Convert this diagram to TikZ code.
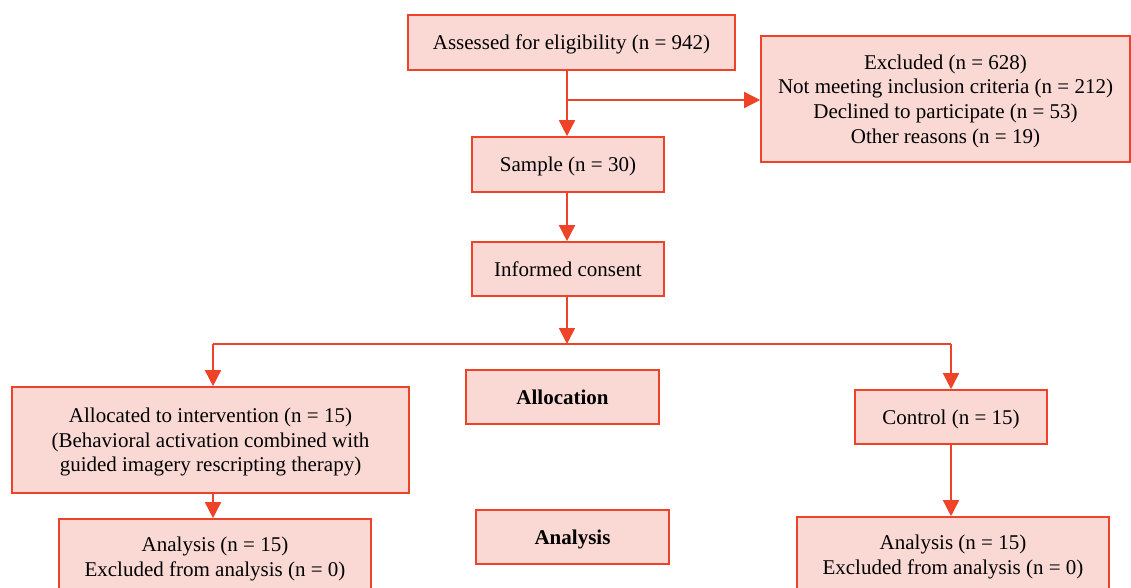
\documentclass[tikz,border=0pt]{standalone}
\usepackage{fontspec}
\setmainfont{Liberation Serif}
\usetikzlibrary{arrows.meta}

\definecolor{boxline}{HTML}{EE4329}
\definecolor{boxfill}{HTML}{FAD9D5}

\tikzset{
  flowbox/.style={draw=boxline, fill=boxfill, line width=1.6pt, align=center,
    inner sep=0pt, font=\fontsize{21}{24.7}\selectfont, text depth=-1.5pt},
  flowline/.style={draw=boxline, line width=1.6pt},
  flowarrow/.style={flowline, -{Triangle[length=16pt,width=16pt]}}
}

\begin{document}
\begin{tikzpicture}[x=1pt, y=-1pt]
	\useasboundingbox (0,0) rectangle (1131,588);
	\clip (0,0) rectangle (1131,588);

	% enrolment
	\node[flowbox, minimum width=327pt, minimum height=55pt] (assess) at (571.5,42.5) {Assessed for eligibility (n = 942)};
	\node[flowbox, minimum width=369pt, minimum height=126pt] (excluded) at (945.5,99) {Excluded (n = 628)\\Not meeting inclusion criteria (n = 212)\\Declined to participate (n = 53)\\Other reasons (n = 19)};
	\node[flowbox, minimum width=192pt, minimum height=55pt] (sample) at (568,164.5) {Sample (n = 30)};
	\node[flowbox, minimum width=192pt, minimum height=54pt] (consent) at (568,269) {Informed consent};

	% allocation
	\node[flowbox, minimum width=397pt, minimum height=106pt] (intervention) at (210.5,440) {Allocated to intervention (n = 15)\\(Behavioral activation combined with\\guided imagery rescripting therapy)};
	\node[flowbox, minimum width=193pt, minimum height=54pt, font=\fontsize{21}{24.7}\selectfont\bfseries] (allocation) at (562.5,397) {Allocation};
	\node[flowbox, minimum width=192pt, minimum height=54pt] (control) at (951,417) {Control (n = 15)};

	% analysis
	\node[flowbox, minimum width=312pt, minimum height=80pt, text depth=4pt] (analysisA) at (215,559) {Analysis (n = 15)\\Excluded from analysis (n = 0)};
	\node[flowbox, minimum width=193pt, minimum height=54pt, font=\fontsize{21}{24.7}\selectfont\bfseries] (analysis) at (572.5,537) {Analysis};
	\node[flowbox, minimum width=312pt, minimum height=80pt, text depth=4pt] (analysisB) at (953,557) {Analysis (n = 15)\\Excluded from analysis (n = 0)};

	\coordinate (split1) at (567,100);
	\coordinate (split2) at (567,344);
	\coordinate (leftcol) at (213,344);

	\draw[flowarrow] (split1 |- assess.south) -- (split1 |- sample.north);
	\draw[flowarrow] (split1) -- (split1 -| excluded.west);
	\draw[flowarrow] (split1 |- sample.south) -- (split1 |- consent.north);
	\draw[flowarrow] (split2 |- consent.south) -- (split2);
	\draw[flowline] (leftcol) -- (control.north |- split2);
	\draw[flowarrow] (leftcol) -- (leftcol |- intervention.north);
	\draw[flowarrow] (control.north |- split2) -- (control.north);
	\draw[flowarrow] (leftcol |- intervention.south) -- (leftcol |- analysisA.north);
	\draw[flowarrow] (control.south) -- (control.south |- analysisB.north);
\end{tikzpicture}
\end{document}
